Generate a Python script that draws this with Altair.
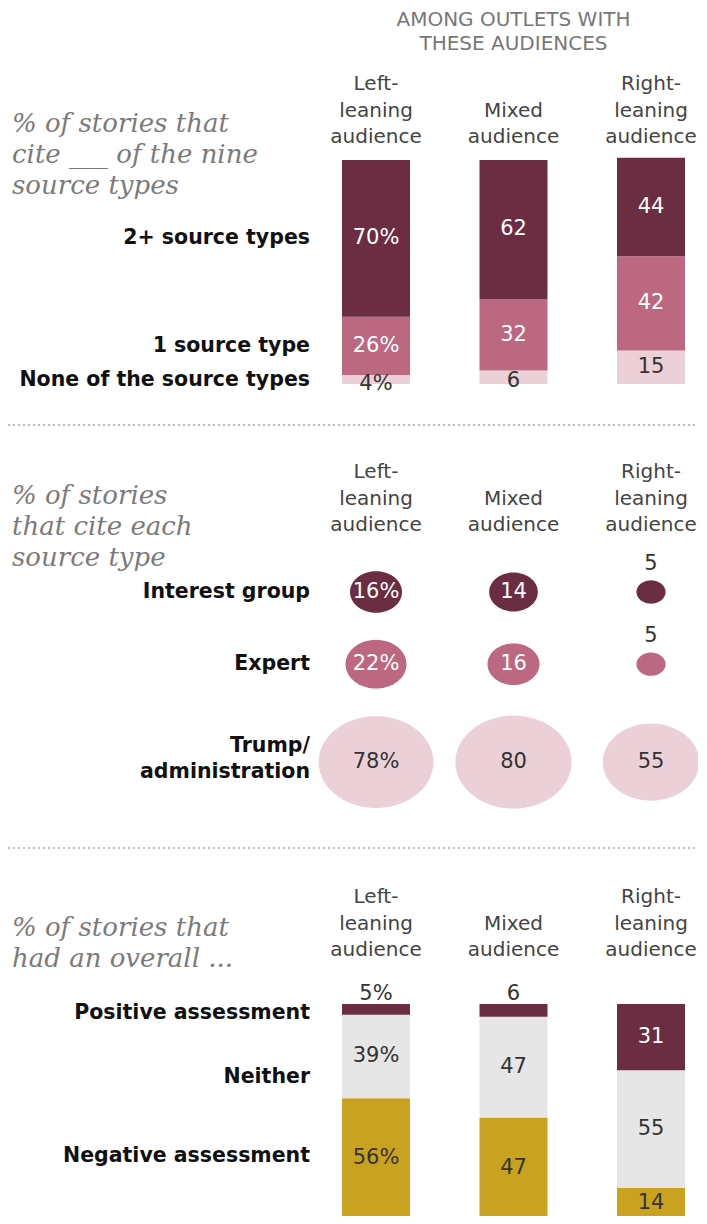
import altair as alt
import numpy as np
import pandas as pd

# ---------------- data ----------------
audiences = ["Left-leaning audience", "Mixed audience", "Right-leaning audience"]
audience_headers = ["Left-\nleaning\naudience", "\nMixed\naudience", "Right-\nleaning\naudience"]
top_note = "AMONG OUTLETS WITH\nTHESE AUDIENCES"

src_title = "% of stories that\ncite ___ of the nine\nsource types"
src_cats = ["2+ source types", "1 source type", "None of the source types"]
src_left = [70, 26, 4]
src_mixed = [62, 32, 6]
src_right = [44, 42, 15]

cite_title = "% of stories\nthat cite each\nsource type"
cite_cats = ["Interest group", "Expert", "Trump/\nadministration"]
cite_left = [16, 22, 78]
cite_mixed = [14, 16, 80]
cite_right = [5, 5, 55]

tone_title = "% of stories that\nhad an overall ..."
tone_cats = ["Positive assessment", "Neither", "Negative assessment"]
tone_left = [5, 39, 56]
tone_mixed = [6, 47, 47]
tone_right = [31, 55, 14]

# ---------------- style / layout ----------------
DARK, MED, LIGHT = "#6b2d42", "#bb6880", "#ebd0d7"
GRAY, GOLD = "#e6e6e6", "#c9a31f"
SANS, SERIF = "DejaVu Sans", "DejaVu Serif"
TXT = "#333333"

W, H = 690, 1208
OFF2, OFF3 = 417, 840          # top of 2nd and 3rd sections
X_RANGE = [368, 643]
BAR_W = 68
NUM_FS = 21
Y1_SCALE = alt.Scale(domain=[0, 100], range=[376, 152])
Y3_SCALE = alt.Scale(domain=[0, 100], range=[OFF3 + 370, OFF3 + 156])
YP_SCALE = alt.Scale(domain=[0, H], range=[0, H])
tone_label_anchor = [96, 66, 29]  # label anchor heights (in % units) for bottom row labels

BUB_W = 13.0   # px of bubble width per sqrt(percent)
ASPECT = 0.8
ROW0, GAP = OFF2 + 167, 27

pts = [(np.cos(t), ASPECT * np.sin(t)) for t in np.linspace(0, 2 * np.pi, 72, endpoint=False)]
ELLIPSE = "M" + "L".join(f"{x:.4f},{y:.4f}" for x, y in pts) + "Z"


def xenc():
    return alt.X("aud:N", scale=alt.Scale(type="point", domain=audiences, range=X_RANGE, padding=0), axis=None)


def stacked(cats, cols):
    recs = []
    for ai, (a, vals) in enumerate(zip(audiences, cols)):
        base = 0
        for ci in reversed(range(len(cats))):
            v = vals[ci]
            recs.append({"aud": a, "cat": cats[ci], "v": v, "y0": base, "y1": base + v,
                         "mid": base + v / 2, "label": f"{v}%" if ai == 0 else str(v)})
            base += v
    return pd.DataFrame(recs)


def header_layer(y_top):
    df = pd.DataFrame({"aud": audiences, "hdr": audience_headers})
    return alt.Chart(df).mark_text(font=SANS, fontSize=20, color="#444444", baseline="top",
                                   align="center", lineBreak="\n", lineHeight=26.5).encode(
        x=xenc(), y=alt.value(y_top), text="hdr:N")


def title_layer(text, y_top):
    return alt.Chart(pd.DataFrame({"t": [text]})).mark_text(
        font=SERIF, fontStyle="italic", fontSize=26, color="#7b7b7b", align="left",
        baseline="top", lineBreak="\n", lineHeight=31).encode(
        x=alt.value(4), y=alt.value(y_top), text="t:N")


def dotted_rule(y):
    return alt.Chart(pd.DataFrame({"a": [0]})).mark_rule(
        color="#a8a8a8", strokeDash=[2, 3], strokeWidth=1.5).encode(
        x=alt.value(0), x2=alt.value(W), y=alt.value(y))


def row_label_layer(df, field, yscale, dy=0):
    return alt.Chart(df).mark_text(font=SANS, fontWeight="bold", fontSize=20.5, align="right",
                                   baseline="middle", color="#111111", lineBreak="\n",
                                   lineHeight=26, dy=dy).encode(
        x=alt.value(302), y=alt.Y(f"{field}:Q", scale=yscale, axis=None), text="cat:N")


def num_layer(df, field, yscale, light_cats, filt, dy=0, fixed=None):
    mk = alt.Chart(df).transform_filter(filt).mark_text(
        font=SANS, fontSize=NUM_FS, baseline="middle", dy=dy)
    color = alt.value(fixed) if fixed else alt.condition(
        alt.FieldOneOfPredicate(field="cat", oneOf=light_cats), alt.value("white"), alt.value(TXT))
    return mk.encode(x=xenc(), y=alt.Y(f"{field}:Q", scale=yscale, axis=None),
                     text="label:N", color=color)


# ---------------- section 1: stacked bars ----------------
s1 = stacked(src_cats, [src_left, src_mixed, src_right])
bars1 = alt.Chart(s1).mark_bar(size=BAR_W).encode(
    x=xenc(), y=alt.Y("y0:Q", scale=Y1_SCALE, axis=None), y2="y1:Q",
    color=alt.Color("cat:N", scale=alt.Scale(domain=src_cats, range=[DARK, MED, LIGHT]), legend=None))
lab1 = num_layer(s1, "mid", Y1_SCALE, src_cats[:2], "datum.v >= 10")
small1 = num_layer(s1, "mid", Y1_SCALE, src_cats[:2], "datum.v < 10", dy=4, fixed=TXT)
rl1 = row_label_layer(s1[s1.aud == audiences[0]], "mid", Y1_SCALE)
note1 = alt.Chart(pd.DataFrame({"aud": [audiences[1]], "t": [top_note]})).mark_text(
    font=SANS, fontSize=20, color="#777777", baseline="top", align="center",
    lineBreak="\n", lineHeight=24).encode(x=xenc(), y=alt.value(1.5), text="t:N")

# ---------------- section 2: bubbles ----------------
cite_cols = [cite_left, cite_mixed, cite_right]
row_h = [max(BUB_W * ASPECT * np.sqrt(col[i]) for col in cite_cols) for i in range(len(cite_cats))]
row_y = [ROW0]
for i in range(1, len(cite_cats)):
    row_y.append(row_y[-1] + row_h[i - 1] / 2 + GAP + row_h[i] / 2)
recs = []
for ai, (a, vals) in enumerate(zip(audiences, cite_cols)):
    for ci, c in enumerate(cite_cats):
        recs.append({"aud": a, "cat": c, "v": vals[ci], "ry": row_y[ci],
                     "label": f"{vals[ci]}%" if ai == 0 else str(vals[ci])})
s2 = pd.DataFrame(recs)
bub = alt.Chart(s2).mark_point(shape=ELLIPSE, filled=True, opacity=1, strokeWidth=0).encode(
    x=xenc(), y=alt.Y("ry:Q", scale=YP_SCALE, axis=None),
    size=alt.Size("v:Q", scale=alt.Scale(type="linear", domain=[0, 100], range=[0, BUB_W ** 2 * 100]), legend=None),
    color=alt.Color("cat:N", scale=alt.Scale(domain=cite_cats, range=[DARK, MED, LIGHT]), legend=None))
lab2 = num_layer(s2, "ry", YP_SCALE, cite_cats[:2], "datum.v >= 10")
small2 = num_layer(s2, "ry", YP_SCALE, cite_cats[:2], "datum.v < 10", dy=-28, fixed=TXT)
left2 = s2[s2.aud == audiences[0]]
rl2a = row_label_layer(left2[~left2.cat.str.contains("\n")], "ry", YP_SCALE)
rl2b = row_label_layer(left2[left2.cat.str.contains("\n")], "ry", YP_SCALE, dy=-16)

# ---------------- section 3: stacked bars ----------------
s3 = stacked(tone_cats, [tone_left, tone_mixed, tone_right])
bars3 = alt.Chart(s3).mark_bar(size=BAR_W).encode(
    x=xenc(), y=alt.Y("y0:Q", scale=Y3_SCALE, axis=None), y2="y1:Q",
    color=alt.Color("cat:N", scale=alt.Scale(domain=tone_cats, range=[DARK, GRAY, GOLD]), legend=None))
lab3 = num_layer(s3, "mid", Y3_SCALE, tone_cats[:1], "datum.v >= 10")
small3 = num_layer(s3, "y1", Y3_SCALE, tone_cats[:1], "datum.v < 10", dy=-10, fixed=TXT)
rl3 = row_label_layer(pd.DataFrame({"cat": tone_cats, "anchor": tone_label_anchor}), "anchor", Y3_SCALE)

chart = alt.layer(
    note1, header_layer(66), title_layer(src_title, 102.5), bars1, lab1, small1, rl1,
    dotted_rule(OFF2), header_layer(OFF2 + 37), title_layer(cite_title, OFF2 + 58),
    bub, lab2, small2, rl2a, rl2b,
    dotted_rule(OFF3), header_layer(OFF3 + 39), title_layer(tone_title, OFF3 + 67),
    bars3, lab3, small3, rl3,
).resolve_scale(y="independent", color="independent").properties(
    width=W, height=H, padding=0, autosize=alt.AutoSizeParams(type="none")
).configure_view(stroke=None)

chart.save("out.html", embed_options={"renderer": "svg", "actions": False})
